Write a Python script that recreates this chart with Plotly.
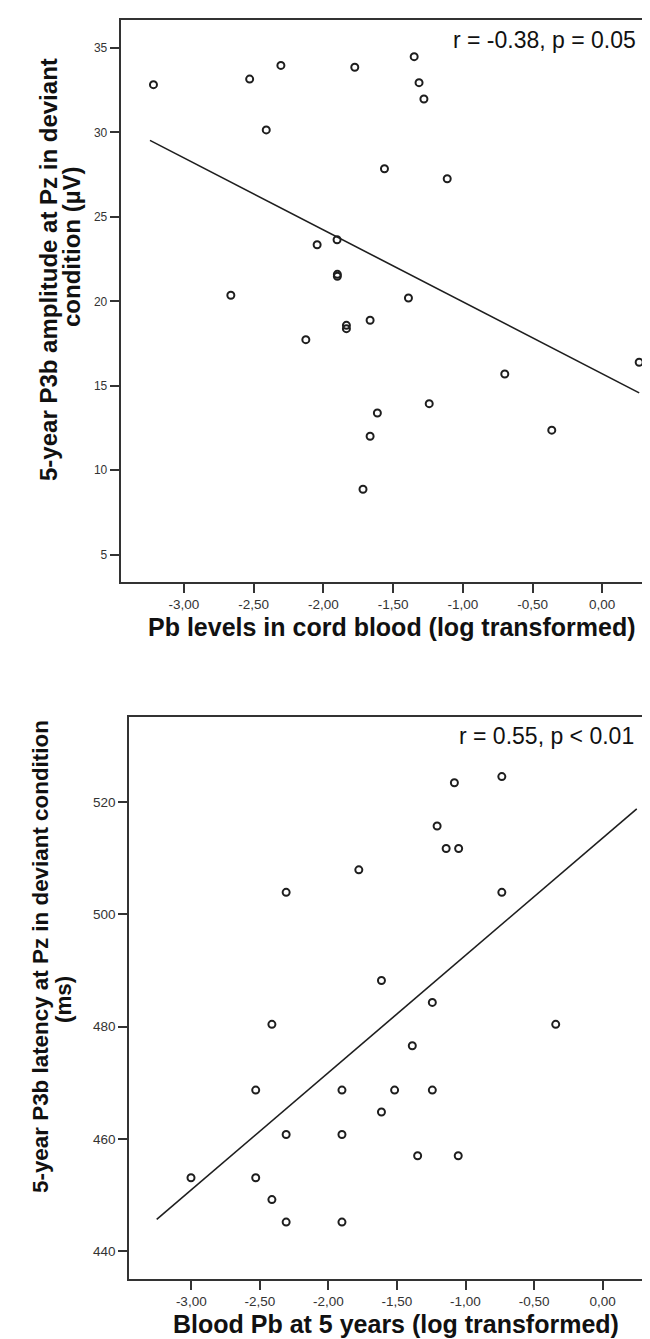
import plotly.graph_objects as go

W, H = 650, 1339

# ---- Top panel data: Pb in cord blood vs P3b amplitude ----
top_x = [-3.219, -2.529, -2.305, -1.775, -1.349, -1.314, -1.279, -2.410, -1.562, -1.112,
         -2.045, -1.902, -1.900, -1.900, -2.664, -1.390, -1.835, -1.835, -1.665, -2.126,
         0.265, -0.699, -1.241, -1.613, -1.665, -0.362, -1.716]
top_y = [32.83, 33.16, 33.97, 33.86, 34.49, 32.95, 31.98, 30.15, 27.85, 27.26,
         23.35, 23.65, 21.60, 21.48, 20.36, 20.20, 18.58, 18.38, 18.88, 17.73,
         16.39, 15.70, 13.94, 13.39, 12.01, 12.37, 8.87]
top_fit_x = [-3.244, 0.265]
top_fit_intercept = 15.71
top_fit_slope = -4.26
top_stat = "r = -0.38, p = 0.05"
top_yticks = [5, 10, 15, 20, 25, 30, 35]

# ---- Bottom panel data: blood Pb at 5 years vs P3b latency ----
bot_x = [-1.081, -0.735, -1.207, -1.141, -1.050, -1.778, -2.308, -0.735, -1.613, -1.242,
         -2.412, -0.342, -1.388, -2.530, -1.901, -1.517, -1.242, -1.613, -2.308, -1.901,
         -1.349, -1.053, -3.002, -2.530, -2.412, -2.308, -1.901]
bot_y = [523.4, 524.5, 515.7, 511.7, 511.7, 507.9, 503.9, 503.9, 488.2, 484.3,
         480.4, 480.4, 476.6, 468.7, 468.7, 468.7, 468.7, 464.8, 460.8, 460.8,
         457.0, 457.0, 453.1, 453.1, 449.2, 445.2, 445.2]
bot_fit_x = [-3.252, 0.249]
bot_fit_intercept = 513.55
bot_fit_slope = 20.87
bot_stat = "r = 0.55, p < 0.01"
bot_yticks = [440, 460, 480, 500, 520]

xtick_vals = [-3.0, -2.5, -2.0, -1.5, -1.0, -0.5, 0.0]
xtick_text = ["-3,00", "-2,50", "-2,00", "-1,50", "-1,00", "-0,50", "0,00"]

FONT = "Liberation Sans, Arial, sans-serif"
INK = "#1e1e1e"

def fit_y(xs, b0, b1):
    return [b0 + b1 * v for v in xs]

fig = go.Figure()

marker = dict(symbol="circle-open", size=7, color=INK, line=dict(width=2, color=INK))

fig.add_trace(go.Scatter(x=top_x, y=top_y, mode="markers", marker=marker,
                         xaxis="x", yaxis="y", showlegend=False))
fig.add_trace(go.Scatter(x=top_fit_x, y=fit_y(top_fit_x, top_fit_intercept, top_fit_slope),
                         mode="lines", line=dict(color=INK, width=1.6),
                         xaxis="x", yaxis="y", showlegend=False))
fig.add_trace(go.Scatter(x=bot_x, y=bot_y, mode="markers", marker=marker,
                         xaxis="x2", yaxis="y2", showlegend=False))
fig.add_trace(go.Scatter(x=bot_fit_x, y=fit_y(bot_fit_x, bot_fit_intercept, bot_fit_slope),
                         mode="lines", line=dict(color=INK, width=1.6),
                         xaxis="x2", yaxis="y2", showlegend=False))

def px_x(p):
    return p / W

def px_y(p):
    return 1 - p / H

axis_common = dict(showgrid=False, zeroline=False, showline=True, linecolor="#333333",
                   linewidth=2, ticks="outside", ticklen=9, tickwidth=2, tickcolor="#333333")

fig.update_layout(
    width=W, height=H,
    margin=dict(l=0, r=0, t=0, b=0),
    paper_bgcolor="white", plot_bgcolor="white",
    font=dict(family=FONT, color="#333333"),
    xaxis=dict(domain=[px_x(112.7), 1], range=[-3.454, 0.400], anchor="y",
               tickvals=xtick_vals, ticktext=xtick_text, mirror=True,
               tickfont=dict(size=13.5, color="#333333"), **axis_common),
    yaxis=dict(domain=[px_y(574), px_y(12)], range=[3.38, 36.66], anchor="x",
               tickvals=top_yticks, tickfont=dict(size=12, color="#333333"), **axis_common),
    xaxis2=dict(domain=[px_x(121.3), 1], range=[-3.452, 0.404], anchor="y2",
                tickvals=xtick_vals, ticktext=xtick_text, mirror=True,
                tickfont=dict(size=13.5, color="#333333"), **axis_common),
    yaxis2=dict(domain=[px_y(1271), px_y(708.5)], range=[435.07, 535.2], anchor="x2",
                tickvals=bot_yticks, tickfont=dict(size=13.5, color="#333333"), **axis_common),
)

ann = []
# stats
ann.append(dict(text=top_stat, x=px_x(630), y=px_y(32), xref="paper", yref="paper",
                xanchor="right", yanchor="middle", showarrow=False,
                font=dict(size=23, color="#111111", family=FONT)))
ann.append(dict(text=bot_stat, x=px_x(628), y=px_y(728), xref="paper", yref="paper",
                xanchor="right", yanchor="middle", showarrow=False,
                font=dict(size=23, color="#111111", family=FONT)))
# x titles
ann.append(dict(text="<b>Pb levels in cord blood (log transformed)</b>", x=px_x(384), y=px_y(619),
                xref="paper", yref="paper", xanchor="center", yanchor="middle", showarrow=False,
                font=dict(size=25, color="#111111", family=FONT)))
ann.append(dict(text="<b>Blood Pb at 5 years (log transformed)</b>", x=px_x(388), y=px_y(1316),
                xref="paper", yref="paper", xanchor="center", yanchor="middle", showarrow=False,
                font=dict(size=25, color="#111111", family=FONT)))
# y titles
ann.append(dict(text="<b>5-year P3b amplitude at Pz in deviant</b>", x=px_x(41), y=px_y(262),
                xref="paper", yref="paper", xanchor="center", yanchor="middle", showarrow=False,
                textangle=-90, font=dict(size=24, color="#111111", family=FONT)))
ann.append(dict(text="<b>condition (µV)</b>", x=px_x(63), y=px_y(239),
                xref="paper", yref="paper", xanchor="center", yanchor="middle", showarrow=False,
                textangle=-90, font=dict(size=24, color="#111111", family=FONT)))
ann.append(dict(text="<b>5-year P3b latency at Pz in deviant condition</b>", x=px_x(32), y=px_y(949),
                xref="paper", yref="paper", xanchor="center", yanchor="middle", showarrow=False,
                textangle=-90, font=dict(size=22.4, color="#111111", family=FONT)))
ann.append(dict(text="<b>(ms)</b>", x=px_x(55), y=px_y(992),
                xref="paper", yref="paper", xanchor="center", yanchor="middle", showarrow=False,
                textangle=-90, font=dict(size=22.4, color="#111111", family=FONT)))
fig.update_layout(annotations=ann)

fig.write_html("out.html")
